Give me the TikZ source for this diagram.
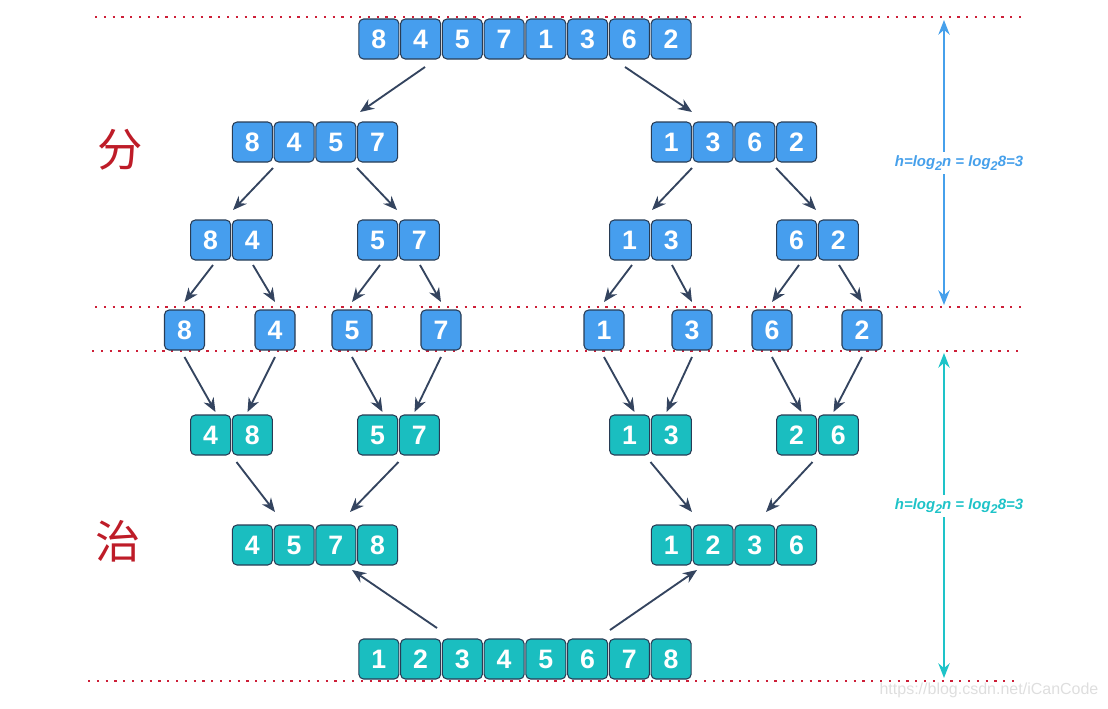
\documentclass[tikz,border=0pt]{standalone}
\usepackage{fontspec}
\setmainfont{Liberation Sans}
\newfontfamily\cjk{Noto Sans CJK SC}
\usetikzlibrary{arrows.meta}
\definecolor{cblue}{RGB}{70,158,238}
\definecolor{cteal}{RGB}{26,190,192}
\definecolor{cedge}{RGB}{40,60,85}
\definecolor{carrow}{RGB}{52,68,95}
\definecolor{cred}{RGB}{205,30,55}
\definecolor{chan}{RGB}{190,28,40}
\definecolor{lblue}{RGB}{70,160,235}
\definecolor{lteal}{RGB}{30,195,200}
\tikzset{
  cellbox/.style={draw=cedge, line width=0.8pt, rounded corners=3.5pt, minimum width=30pt, minimum height=30pt, inner sep=0pt, text=white, font=\fontsize{20}{22}\selectfont\bfseries},
  bluecell/.style={cellbox, fill=cblue},
  tealcell/.style={cellbox, fill=cteal},
  arr/.style={draw=carrow, line width=1.4pt, -{Stealth[length=10.5pt,width=8.5pt]}},
  redline/.style={draw=cred, line width=1.3pt, dash pattern=on 1.6pt off 5pt},
  hanzi/.style={text=chan, font=\cjk\fontsize{34}{36}\selectfont},
  vblue/.style={draw=lblue, line width=1.5pt, {Stealth[length=11pt,width=8.5pt]}-{Stealth[length=11pt,width=8.5pt]}},
  vteal/.style={draw=lteal, line width=1.5pt, {Stealth[length=11pt,width=8.5pt]}-{Stealth[length=11pt,width=8.5pt]}},
  hlabel/.style={fill=white, inner sep=3pt, font=\fontsize{11.2}{13}\selectfont\bfseries\itshape},
}
\newcommand\sub[1]{\raisebox{-0.5ex}{\fontsize{9.5}{10}\selectfont #1}}
\newcommand\cellrow[4]{% group-name, list, count, style
  \foreach \d [count=\i from 0] in {#2} {
    \node[#4] (#1-\i) at ([shift={({-20.875*(#3-1)+41.75*\i},0)}]#1) {\d};
  }}
\begin{document}
\begin{tikzpicture}[x=0.75pt,y=-0.75pt]
\useasboundingbox (0,0) rectangle (1108,708);

% dotted red separators
\coordinate (d1a) at (95,17);  \coordinate (d1b) at (1025,17);
\coordinate (d2a) at (95,307); \coordinate (d2b) at (1025,307);
\coordinate (d3a) at (92,351); \coordinate (d3b) at (1020,351);
\coordinate (d4a) at (88,681); \coordinate (d4b) at (1015,681);
\draw[redline] (d1a) -- (d1b);
\draw[redline] (d2a) -- (d2b);
\draw[redline] (d3a) -- (d3b);
\draw[redline] (d4a) -- (d4b);

% group centres
\coordinate (G0) at (525,39);
\coordinate (L1) at (315,142);   \coordinate (R1) at (734,142);
\coordinate (A2) at (231.5,240); \coordinate (B2) at (398.5,240);
\coordinate (C2) at (650.5,240); \coordinate (D2) at (817.5,240);
\coordinate (s8) at (184.5,330); \coordinate (s4) at (275,330);
\coordinate (s5) at (352,330);   \coordinate (s7) at (441,330);
\coordinate (s1) at (604,330);   \coordinate (s3) at (692,330);
\coordinate (s6) at (772,330);   \coordinate (s2) at (862,330);
\coordinate (A4) at (231.5,435); \coordinate (B4) at (398.5,435);
\coordinate (C4) at (650.5,435); \coordinate (D4) at (817.5,435);
\coordinate (L5) at (315,545);   \coordinate (R5) at (734,545);
\coordinate (G6) at (525,659);

% cells
\cellrow{G0}{8,4,5,7,1,3,6,2}{8}{bluecell}
\cellrow{L1}{8,4,5,7}{4}{bluecell}
\cellrow{R1}{1,3,6,2}{4}{bluecell}
\cellrow{A2}{8,4}{2}{bluecell}
\cellrow{B2}{5,7}{2}{bluecell}
\cellrow{C2}{1,3}{2}{bluecell}
\cellrow{D2}{6,2}{2}{bluecell}
\cellrow{s8}{8}{1}{bluecell}
\cellrow{s4}{4}{1}{bluecell}
\cellrow{s5}{5}{1}{bluecell}
\cellrow{s7}{7}{1}{bluecell}
\cellrow{s1}{1}{1}{bluecell}
\cellrow{s3}{3}{1}{bluecell}
\cellrow{s6}{6}{1}{bluecell}
\cellrow{s2}{2}{1}{bluecell}
\cellrow{A4}{4,8}{2}{tealcell}
\cellrow{B4}{5,7}{2}{tealcell}
\cellrow{C4}{1,3}{2}{tealcell}
\cellrow{D4}{2,6}{2}{tealcell}
\cellrow{L5}{4,5,7,8}{4}{tealcell}
\cellrow{R5}{1,2,3,6}{4}{tealcell}
\cellrow{G6}{1,2,3,4,5,6,7,8}{8}{tealcell}

% divide arrows
\draw[arr] ([shift={(-100,28)}]G0) -- ([shift={(45,-30)}]L1);
\draw[arr] ([shift={(100,28)}]G0) -- ([shift={(-42,-30)}]R1);
\draw[arr] ([shift={(-42,26)}]L1) -- ([shift={(1.5,-30)}]A2);
\draw[arr] ([shift={(42,26)}]L1) -- ([shift={(-1.5,-30)}]B2);
\draw[arr] ([shift={(-42,26)}]R1) -- ([shift={(1.5,-30)}]C2);
\draw[arr] ([shift={(42,26)}]R1) -- ([shift={(-1.5,-30)}]D2);
\draw[arr] ([shift={(-18.5,25)}]A2) -- ([shift={(0,-28)}]s8);
\draw[arr] ([shift={(21.5,25)}]A2) -- ([shift={(0,-28)}]s4);
\draw[arr] ([shift={(-18.5,25)}]B2) -- ([shift={(0,-28)}]s5);
\draw[arr] ([shift={(21.5,25)}]B2) -- ([shift={(0,-28)}]s7);
\draw[arr] ([shift={(-18.5,25)}]C2) -- ([shift={(0,-28)}]s1);
\draw[arr] ([shift={(21.5,25)}]C2) -- ([shift={(0,-28)}]s3);
\draw[arr] ([shift={(-18.5,25)}]D2) -- ([shift={(0,-28)}]s6);
\draw[arr] ([shift={(21.5,25)}]D2) -- ([shift={(0,-28)}]s2);

% conquer arrows
\draw[arr] ([shift={(0,27)}]s8) -- ([shift={(-16,-23)}]A4);
\draw[arr] ([shift={(0,27)}]s4) -- ([shift={(16,-23)}]A4);
\draw[arr] ([shift={(0,27)}]s5) -- ([shift={(-16,-23)}]B4);
\draw[arr] ([shift={(0,27)}]s7) -- ([shift={(16,-23)}]B4);
\draw[arr] ([shift={(0,27)}]s1) -- ([shift={(-16,-23)}]C4);
\draw[arr] ([shift={(0,27)}]s3) -- ([shift={(16,-23)}]C4);
\draw[arr] ([shift={(0,27)}]s6) -- ([shift={(-16,-23)}]D4);
\draw[arr] ([shift={(0,27)}]s2) -- ([shift={(16,-23)}]D4);
\draw[arr] ([shift={(5,27)}]A4) -- ([shift={(-40,-33)}]L5);
\draw[arr] ([shift={(0,27)}]B4) -- ([shift={(35,-33)}]L5);
\draw[arr] ([shift={(0,27)}]C4) -- ([shift={(-42,-33)}]R5);
\draw[arr] ([shift={(-5,27)}]D4) -- ([shift={(32,-33)}]R5);
\draw[arr] ([shift={(-88,-31)}]G6) -- ([shift={(37,25)}]L5);
\draw[arr] ([shift={(85,-29)}]G6) -- ([shift={(-37,25)}]R5);

% height arrows
\coordinate (hb1) at (944,20);  \coordinate (hb2) at (944,305);
\coordinate (ht1) at (944,353); \coordinate (ht2) at (944,678);
\draw[vblue] (hb1) -- (hb2);
\draw[vteal] (ht1) -- (ht2);
\node[hlabel, text=lblue] (lb) at (959,163) {h=log\sub{2}n = log\sub{2}8=3};
\node[hlabel, text=lteal] (lt) at (959,506) {h=log\sub{2}n = log\sub{2}8=3};

% side labels
\node[hanzi] (fen) at (120,150) {分};
\node[hanzi] (zhi) at (118,541) {治};

% watermark
\node[text=black!13, font=\fontsize{12}{14}\selectfont] (wm) at (989,690) {https://blog.csdn.net/iCanCode};
\end{tikzpicture}
\end{document}
